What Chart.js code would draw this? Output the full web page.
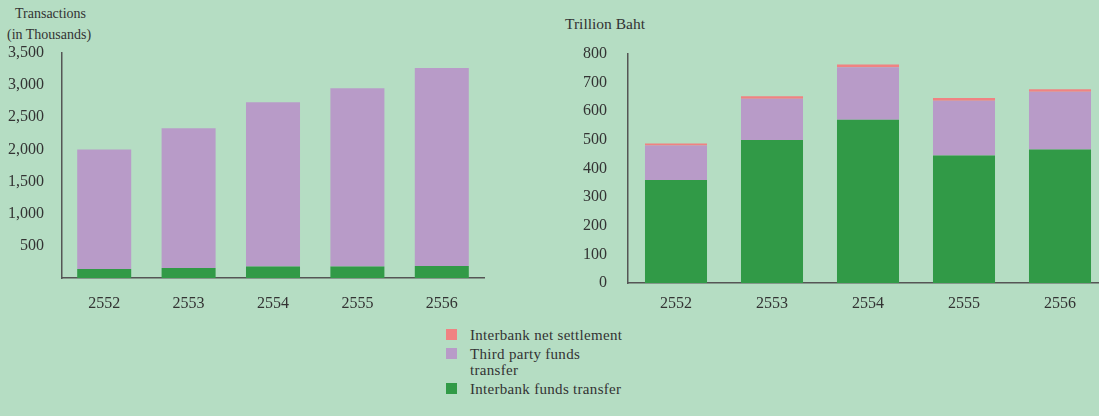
<!DOCTYPE html>
<html>
<head>
<meta charset="utf-8">
<script src="https://cdn.jsdelivr.net/npm/chart.js@4"></script>
<style>
  html, body { margin: 0; padding: 0; }
  body {
    width: 1099px; height: 416px; overflow: hidden; position: relative;
    background: #b5ddc3; font-family: 'Liberation Serif', serif; color: #333;
  }
  .box { position: absolute; }
  .label { position: absolute; white-space: nowrap; line-height: 1; }
  .legend { position: absolute; left: 446px; top: 327px; font-size: 15px; color: #333; }
  .legend-item { display: flex; align-items: flex-start; margin-bottom: 3px; line-height: 16px; letter-spacing: 0.3px; }
  .legend-dot { width: 11px; height: 11px; margin: 2px 13px 0 0; flex: none; }
</style>
</head>
<body>
<div class="label" style="left:15px;top:7px;font-size:14px">Transactions</div>
<div class="label" style="left:7px;top:28px;font-size:14px">(in Thousands)</div>
<div class="label" style="left:565px;top:16px;font-size:15.5px">Trillion Baht</div>

<div class="box" style="left:0;top:0;width:500px;height:320px"><canvas id="tx-chart"></canvas></div>
<div class="box" style="left:540px;top:0;width:580px;height:320px"><canvas id="value-chart"></canvas></div>

<div class="legend" id="legend"></div>

<script>
// Years (Buddhist era)
const years = ['2552', '2553', '2554', '2555', '2556'];

// Number of transactions, thousands
const txInterbank = [140, 156, 177, 177, 187];
const txThirdParty = [1860, 2172, 2557, 2776, 3079];

// Transaction value, trillion baht
const valInterbank = [360, 500, 570, 445, 466];
const valThirdParty = [120, 144, 184, 192, 202];
const valNetSettlement = [7, 8, 9, 9, 9];

const COLORS = {
  net: '#f08282',
  third: '#b89bc8',
  interbank: '#319a47',
};
const AXIS = '#555555';
const TEXT = '#333333';

Chart.defaults.font.family = "'Liberation Serif', serif";
Chart.defaults.font.size = 16;
Chart.defaults.color = TEXT;

function buildStacked(canvasId, datasets, opts) {
  return new Chart(document.getElementById(canvasId), {
    type: 'bar',
    data: { labels: years, datasets },
    options: {
      responsive: true,
      maintainAspectRatio: false,
      animation: false,
      layout: { padding: { top: opts.top, right: opts.right, left: 0, bottom: 0 } },
      plugins: { legend: { display: false }, tooltip: { enabled: false } },
      datasets: { bar: { categoryPercentage: 1, barPercentage: opts.barPct } },
      scales: {
        x: {
          stacked: true,
          grid: { display: false, drawTicks: false },
          border: { color: AXIS, width: 1.5 },
          ticks: { padding: opts.xPad, color: TEXT },
          afterFit: (s) => { s.height = opts.xHeight; },
        },
        y: {
          stacked: true,
          min: 0,
          max: opts.max,
          grid: { display: false, drawTicks: false },
          border: { color: AXIS, width: 1.5 },
          ticks: {
            stepSize: opts.step,
            padding: opts.yPad,
            color: TEXT,
            callback: opts.tickFmt,
          },
          afterFit: (s) => { s.width = opts.yWidth; },
        },
      },
    },
  });
}

buildStacked('tx-chart', [
  { label: 'Interbank funds transfer', data: txInterbank, backgroundColor: COLORS.interbank },
  { label: 'Third party funds transfer', data: txThirdParty, backgroundColor: COLORS.third },
], {
  top: 53, right: 16, xHeight: 42, xPad: 16, yWidth: 62, yPad: 18,
  max: 3500, step: 500, barPct: 0.64,
  tickFmt: (v) => (v === 0 ? '' : v.toLocaleString('en-US')),
});

buildStacked('value-chart', [
  { label: 'Interbank funds transfer', data: valInterbank, backgroundColor: COLORS.interbank },
  { label: 'Third party funds transfer', data: valThirdParty, backgroundColor: COLORS.third },
  { label: 'Interbank net settlement', data: valNetSettlement, backgroundColor: COLORS.net },
], {
  top: 54, right: 12, xHeight: 37, xPad: 11, yWidth: 88, yPad: 21,
  max: 800, step: 100, barPct: 0.646,
  tickFmt: (v) => String(v),
});

// shared legend under both charts
const legendItems = [
  { color: COLORS.net, text: 'Interbank net settlement' },
  { color: COLORS.third, text: 'Third party funds<br>transfer' },
  { color: COLORS.interbank, text: 'Interbank funds transfer' },
];
document.getElementById('legend').innerHTML = legendItems.map((it) => `
  <div class="legend-item">
    <div class="legend-dot" style="background:${it.color}"></div>
    <div>${it.text}</div>
  </div>
`).join('');
</script>
</body>
</html>
